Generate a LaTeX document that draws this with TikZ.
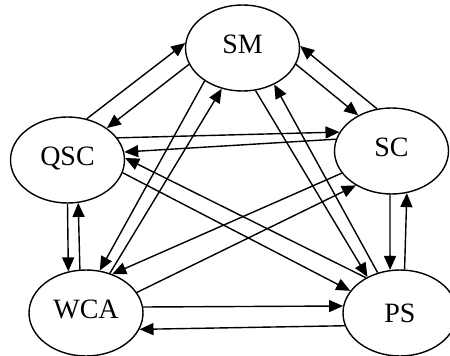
\documentclass[tikz,border=0pt]{standalone}
\usepackage{fontspec}
\setmainfont{Liberation Serif}
\usetikzlibrary{shapes.geometric,arrows.meta}
\begin{document}
\begin{tikzpicture}[x=1pt,y=1pt,
  state/.style={draw,ellipse,line width=1.4pt,inner sep=0pt,
    minimum width=114pt,minimum height=86pt,
    font=\fontsize{28}{28}\selectfont,text height=18pt,text depth=8pt},
  flow/.style={line width=1.4pt,-{Triangle[length=14pt,width=12pt]}}]
\useasboundingbox (0,0) rectangle (450,-356);
% the five states
\node[state] (SM)  at (242.5,-48)  {SM};
\node[state] (QSC) at (67.5,-160)  {QSC};
\node[state] (SC)  at (391.5,-151) {SC};
\node[state] (WCA) at (86,-313)    {WCA};
\node[state,text height=18pt,text depth=0pt] (PS) at (400,-313) {PS};
% transitions, one arrow each way for every pair
\draw[flow] (QSC.65)    -- (SM.175);
\draw[flow] (SM.197)    -- (QSC.39);
\draw[flow] (SM.343.5)  -- (SC.133.5);
\draw[flow] (SC.109)    -- (SM.2);
\draw[flow] (QSC.24.8)  -- (SC.160.3);
\draw[flow] (SC.168.4)  -- (QSC.8.9);
\draw[flow] (QSC.270)   -- (WCA.113.8);
\draw[flow] (WCA.98.6)  -- (QSC.284.9);
\draw[flow] (SM.221.6)  -- (WCA.72.6);
\draw[flow] (WCA.59.8)  -- (SM.243.3);
\draw[flow] (SM.287.2)  -- (PS.132.1);
\draw[flow] (PS.119.4)  -- (SM.311.1);
\draw[flow] (SC.268)    -- (PS.103.9);
\draw[flow] (PS.84.8)   -- (SC.290.8);
\draw[flow] (QSC.347)   -- (PS.156.4);
\draw[flow] (PS.134.7)  -- (QSC.2.2);
\draw[flow] (SC.204.2)  -- (WCA.56.1);
\draw[flow] (WCA.22.2)  -- (SC.224.3);
\draw[flow] (WCA.6.9)   -- (PS.173);
\draw[flow] (PS.193.6)  -- (WCA.343);
\end{tikzpicture}
\end{document}
